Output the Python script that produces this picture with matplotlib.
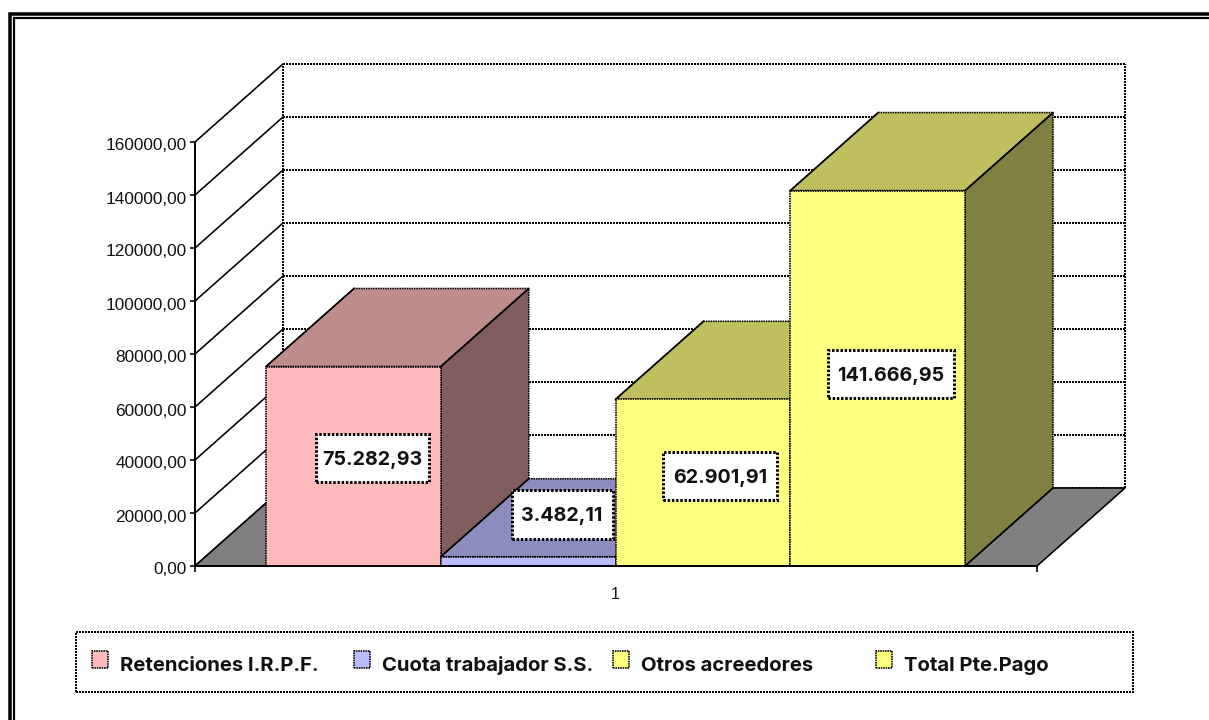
import matplotlib
matplotlib.use("Agg")
import matplotlib.pyplot as plt
from matplotlib.legend import Legend
from matplotlib.lines import Line2D
from matplotlib.patches import Patch, Polygon, Rectangle
from matplotlib.transforms import ScaledTranslation

# ---- data ----
categories = ["Retenciones I.R.P.F.", "Cuota trabajador S.S.", "Otros acreedores", "Total Pte.Pago"]
values = [75282.93, 3482.11, 62901.91, 141666.95]
value_labels = ["75.282,93", "3.482,11", "62.901,91", "141.666,95"]
y_ticks = [0, 20000, 40000, 60000, 80000, 100000, 120000, 140000, 160000]
x_label = "1"

# ---- style ----
front_colors = ["#FFBBBB", "#BBBBFF", "#FFFF80", "#FFFF80"]
top_colors = ["#BF8C8C", "#8C8CBF", "#BFBF60", "#BFBF60"]
side_colors = ["#805E5E", "#5E5E80", "#808040", "#808040"]
label_shift_px = [(19, -8), (34, -47), (17.5, -6.5), (13, -4.5)]
label_box_px = [(113, 48), (101, 49), (114, 48), (126, 48)]
legend_x_px = [92, 354, 613, 876]

W, H = 1209, 720
PX = 0.72  # points per pixel at dpi 100
AX_L, AX_R, AX_T, AX_B = 195, 1037, 142, 566
BAR_W_PX = 174.75
FIRST_BAR_PX = 266
DX_PX, DY_PX = 88, 78
Y_MAX = 160000
DOT = (0, (1.0, 0.5))

plt.rcParams["font.family"] = ["Liberation Sans", "DejaVu Sans"]
fig = plt.figure(figsize=(W / 100, H / 100), dpi=100, facecolor="white")
ax = fig.add_axes([AX_L / W, 1 - AX_B / H, (AX_R - AX_L) / W, (AX_B - AX_T) / H], facecolor="none")
x0 = (AX_L - FIRST_BAR_PX) / BAR_W_PX
x1 = (AX_R - FIRST_BAR_PX) / BAR_W_PX
ax.set_xlim(x0, x1)
ax.set_ylim(0, Y_MAX)
val_per_px = Y_MAX / (AX_B - AX_T)
ddx = DX_PX / BAR_W_PX
ddy = DY_PX * val_per_px

LW = 1.6 * PX
GRID_LW = 2 * PX
# walls
for v in y_ticks:
    ax.plot([x0 + ddx, x1 + ddx], [v + ddy, v + ddy], color="black", lw=GRID_LW, ls=DOT, clip_on=False, zorder=1)
    ax.plot([x0, x0 + ddx], [v, v + ddy], color="black", lw=LW, clip_on=False, zorder=1)
for xv in (x0 + ddx, x1 + ddx):
    ax.plot([xv, xv], [ddy, Y_MAX + ddy], color="black", lw=GRID_LW, ls=DOT, clip_on=False, zorder=1)
# floor
ax.add_patch(Polygon([(x0, 0), (x1, 0), (x1 + ddx, ddy), (x0 + ddx, ddy)], closed=True,
                     facecolor="#808080", edgecolor="black", lw=LW, clip_on=False, zorder=1.5))

# bars drawn left to right, each one over the previous
for i, v in enumerate(values):
    z = 2 + i
    l, r = i, i + 1
    kw = dict(closed=True, edgecolor="black", lw=LW, ls=DOT, clip_on=False, zorder=z)
    ax.add_patch(Polygon([(r, 0), (r + ddx, ddy), (r + ddx, v + ddy), (r, v)], facecolor=side_colors[i], **kw))
    ax.add_patch(Polygon([(l, v), (r, v), (r + ddx, v + ddy), (l + ddx, v + ddy)], facecolor=top_colors[i], **kw))
    ax.add_patch(Polygon([(l, 0), (r, 0), (r, v), (l, v)], facecolor=front_colors[i], **kw))
    for a, b in (((r, 0), (r + ddx, ddy)), ((r, v), (r + ddx, v + ddy)), ((l, v), (l + ddx, v + ddy))):
        ax.plot([a[0], b[0]], [a[1], b[1]], color="black", lw=LW, clip_on=False, zorder=z + 0.1)

# value labels
for i, (v, txt) in enumerate(zip(values, value_labels)):
    sx, sy = label_shift_px[i]
    bw, bh = label_box_px[i]
    cx = i + 0.5 + sx / BAR_W_PX
    cy = v / 2 - sy * val_per_px
    ax.add_patch(Rectangle((cx - bw / BAR_W_PX / 2, cy - bh * val_per_px / 2), bw / BAR_W_PX, bh * val_per_px,
                           facecolor="white", edgecolor="black", lw=3 * PX, ls=(0, (0.8, 0.6)),
                           clip_on=False, zorder=20))
    ax.text(cx, cy, txt, ha="center", va="center_baseline", fontsize=19.7 * PX, fontweight="bold",
            family=["Inter", "Liberation Sans"], color="#111111", zorder=21)

# axes furniture
for s in ("top", "right"):
    ax.spines[s].set_visible(False)
ax.spines["left"].set_linewidth(GRID_LW)
ax.spines["left"].set_linestyle(DOT)
ax.spines["bottom"].set_linewidth(2 * PX)
ax.spines["left"].set_zorder(30)
ax.spines["bottom"].set_zorder(30)
ax.set_yticks(y_ticks)
ax.set_yticklabels([f"{t},00" for t in y_ticks], fontsize=17.3 * PX, color="#111111")
ax.tick_params(axis="y", length=5 * PX, width=LW, pad=3 * PX)
down = ScaledTranslation(0, -2.5 / 100, fig.dpi_scale_trans)
for lab in ax.get_yticklabels():
    lab.set_transform(lab.get_transform() + down)
ax.set_xticks([x0, 2, x1])
ax.set_xticklabels(["", x_label, ""], fontsize=16 * PX, color="#111111")
ax.tick_params(axis="x", length=6 * PX, width=LW, pad=15 * PX)
ax.get_xticklines()[2].set_visible(False)

# legend: one entry per anchor, so each column sits where the reference has it
FS = 20.3
for name, colour, lx in zip(categories, front_colors, legend_x_px):
    handle = Patch(facecolor=colour, edgecolor="black", lw=LW, ls=DOT)
    leg = Legend(ax, [handle], [name], frameon=False, loc="center left",
                 bbox_to_anchor=(lx / W, 1 - 661 / H), bbox_transform=fig.transFigure,
                 prop=dict(family=["Inter", "Liberation Sans"], weight="bold", size=FS * PX),
                 labelcolor="#111111", borderpad=0, borderaxespad=0,
                 handlelength=16 / FS, handleheight=17 / FS, handletextpad=12 / FS)
    leg.set_zorder(40)
    for t in leg.get_texts():
        t.set_y(-4)
    ax.add_artist(leg)
fig.add_artist(Rectangle((76 / W, 1 - 692 / H), (1133 - 76) / W, 60 / H, transform=fig.transFigure,
                         facecolor="none", edgecolor="black", lw=GRID_LW, ls=DOT))

# double outer border, open to the right and bottom edges
fig.add_artist(Line2D([1, 9.8 / W, 9.8 / W], [1 - 13.7 / H, 1 - 13.7 / H, 0], color="black", lw=3.5 * PX,
                      transform=fig.transFigure, solid_joinstyle="miter"))
fig.add_artist(Line2D([1, 13.9 / W, 13.9 / W], [1 - 17.7 / H, 1 - 17.7 / H, 0], color="black", lw=2.2 * PX,
                      transform=fig.transFigure, solid_joinstyle="miter"))

fig.savefig("out.png", dpi=100)
